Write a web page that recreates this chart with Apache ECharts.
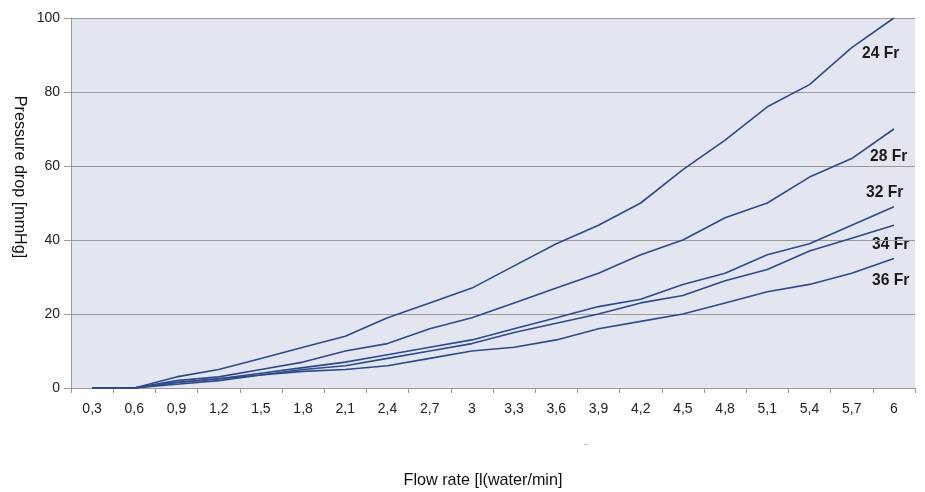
<!DOCTYPE html>
<html><head><meta charset="utf-8">
<script src="https://cdn.jsdelivr.net/npm/echarts@6/dist/echarts.min.js"></script>
<style>html,body{margin:0;padding:0;background:#fff}#c{width:925px;height:492px}</style>
</head><body><div id="c"></div>
<script>
var categories = ['0,3','0,6','0,9','1,2','1,5','1,8','2,1','2,4','2,7','3','3,3','3,6','3,9','4,2','4,5','4,8','5,1','5,4','5,7','6'];
var fr24 = [0,0,3,5,8,11,14,19,23,27,33,39,44,50,59,67,76,82,92,100];
var fr28 = [0,0,2,3,5,7,10,12,16,19,23,27,31,36,40,46,50,57,62,70];
var fr32 = [0,0,1.5,2.5,4,5.5,7,9,11,13,16,19,22,24,28,31,36,39,44,49];
var fr34 = [0,0,1,2,3.5,5,6,8,10,12,15,17.5,20,23,25,29,32,37,40.5,44];
var fr36 = [0,0,1.5,2.5,3.5,4.5,5,6,8,10,11,13,16,18,20,23,26,28,31,35];
var seriesNames = ['24 Fr','28 Fr','32 Fr','34 Fr','36 Fr'];
var yTicks = [0,20,40,60,80,100];

var lineColor = '#2e4a8a';
var font = 'Liberation Sans, Arial, sans-serif';
function mk(name, data){
  return {name:name, type:'line', data:data, symbol:'none', smooth:false,
    lineStyle:{color:lineColor, width:1.6}, itemStyle:{color:lineColor}, z:3};
}
function lbl(text, x, y){
  return {type:'text', x:x, y:y, scaleX:0.92, style:{text:text, font:'bold 17px '+font, fill:'#1a1a1a', align:'left', verticalAlign:'middle'}};
}
var chart = echarts.init(document.getElementById('c'), null, {renderer:'canvas'});
chart.setOption({
  animation:false,
  grid:{left:71, right:10, top:18, bottom:104, containLabel:false, show:true, backgroundColor:'#e3e5f1', borderWidth:0},
  xAxis:{type:'category', data:categories, boundaryGap:true,
    axisLine:{lineStyle:{color:'#9a9a9a', width:1}},
    axisTick:{show:true, alignWithLabel:false, length:5, lineStyle:{color:'#9a9a9a'}},
    axisLabel:{color:'#222', fontFamily:font, fontSize:14, margin:14, interval:0},
    splitLine:{show:false}},
  yAxis:{type:'value', min:0, max:100, interval:20,
    axisLine:{show:true, lineStyle:{color:'#9a9a9a', width:1}},
    axisTick:{show:true, length:7, lineStyle:{color:'#9a9a9a'}},
    axisLabel:{color:'#222', fontFamily:font, fontSize:14, margin:11},
    splitLine:{show:true, lineStyle:{color:'#9a9a9a', width:1}}},
  series:[mk(seriesNames[0],fr24), mk(seriesNames[1],fr28), mk(seriesNames[2],fr32), mk(seriesNames[3],fr34), mk(seriesNames[4],fr36)],
  graphic:[
    lbl(seriesNames[0], 862, 53),
    lbl(seriesNames[1], 870, 156),
    lbl(seriesNames[2], 866, 192),
    lbl(seriesNames[3], 872, 244),
    lbl(seriesNames[4], 872, 280),
    {type:'text', x:20, y:177, rotation:-Math.PI/2, scaleX:0.95, style:{text:'Pressure drop [mmHg]', font:'17px '+font, fill:'#111', align:'center', verticalAlign:'middle'}},
    {type:'text', x:483, y:480, scaleX:0.95, style:{text:'Flow rate [l(water/min]', font:'17px '+font, fill:'#111', align:'center', verticalAlign:'middle'}},
    {type:'text', x:586, y:444, style:{text:'-', font:'10px '+font, fill:'#999', align:'center', verticalAlign:'middle'}}
  ]
});
</script></body></html>
